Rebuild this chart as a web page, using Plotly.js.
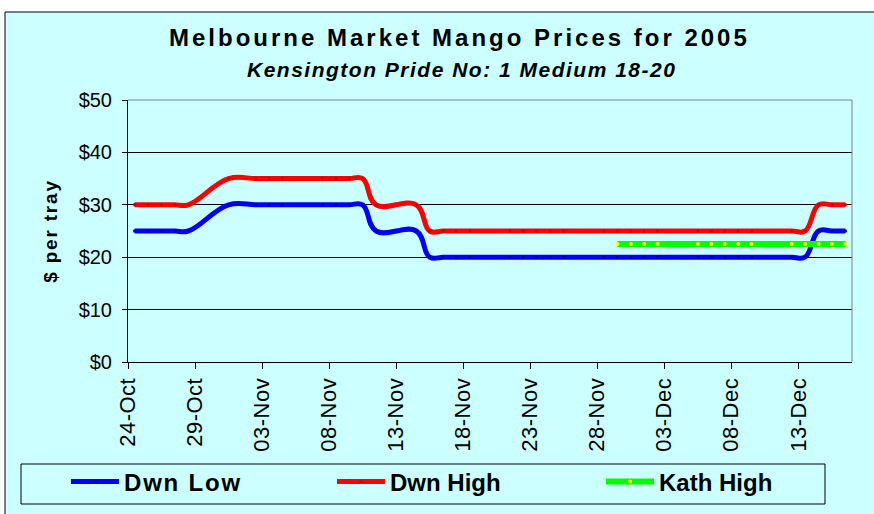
<!DOCTYPE html>
<html>
<head>
<meta charset="utf-8">
<script src="https://cdn.plot.ly/plotly-3.0.1.min.js"></script>
<style>
html, body { margin: 0; padding: 0; background: #ffffff; }
#chart { width: 874px; height: 514px; }
.legendtext { letter-spacing: 1.8px; }
.ytitle { letter-spacing: 1.8px; }
.xtick text { letter-spacing: 0.5px; }
</style>
</head>
<body>
<div id="chart"></div>
<script>
// Trading days (weekdays; 01-Nov Melbourne Cup holiday absent)
const dwnDates = [
  '2005-10-24','2005-10-25','2005-10-26','2005-10-27','2005-10-28',
  '2005-10-31','2005-11-02','2005-11-03','2005-11-04',
  '2005-11-07','2005-11-08','2005-11-09','2005-11-10','2005-11-11',
  '2005-11-14','2005-11-15','2005-11-16','2005-11-17','2005-11-18',
  '2005-11-21','2005-11-22','2005-11-23','2005-11-24','2005-11-25',
  '2005-11-28','2005-11-29','2005-11-30','2005-12-01','2005-12-02',
  '2005-12-05','2005-12-06','2005-12-07','2005-12-08','2005-12-09',
  '2005-12-12','2005-12-13','2005-12-14','2005-12-15','2005-12-16'
];
const dwnLow = [
  25,25,25,25,25,
  30,30,30,30,
  30,30,30,30,25,
  25,20,20,20,20,
  20,20,20,20,20,
  20,20,20,20,20,
  20,20,20,20,20,
  20,20,25,25,25
];
const dwnHigh = [
  30,30,30,30,30,
  35,35,35,35,
  35,35,35,35,30,
  30,25,25,25,25,
  25,25,25,25,25,
  25,25,25,25,25,
  25,25,25,25,25,
  25,25,30,30,30
];
const kathDates = [
  '2005-11-29','2005-11-30','2005-12-01','2005-12-02',
  '2005-12-05','2005-12-06','2005-12-07','2005-12-08','2005-12-09',
  '2005-12-12','2005-12-13','2005-12-14','2005-12-15','2005-12-16'
];
const kathHigh = [22.5,22.5,22.5,22.5,22.5,22.5,22.5,22.5,22.5,22.5,22.5,22.5,22.5,22.5];
const yTicks = [0,10,20,30,40,50];
const yTickText = ['$0','$10','$20','$30','$40','$50'];

const titleText = 'Melbourne Market Mango Prices for 2005';
const subtitleText = 'Kensington Pride No: 1 Medium 18-20';
const yTitle = '$ per tray';

// Excel date axis places points between tick marks (midday)
const mid = d => d + ' 12:00';

const FONT = 'Liberation Sans, Arial, sans-serif';

const traces = [
  {
    x: dwnDates.map(mid), y: dwnLow, name: 'Dwn Low', type: 'scatter', mode: 'lines+markers',
    legend: 'legend',
    line: {color: '#0000FF', width: 5, shape: 'spline', smoothing: 1.2},
    marker: {color: '#0000AA', size: 3.5, symbol: 'circle'}
  },
  {
    x: dwnDates.map(mid), y: dwnHigh, name: 'Dwn High', type: 'scatter', mode: 'lines+markers',
    legend: 'legend2',
    line: {color: '#FF0000', width: 5, shape: 'spline', smoothing: 1.2},
    marker: {color: '#CC0000', size: 3.5, symbol: 'circle'}
  },
  {
    x: kathDates.map(mid), y: kathHigh, name: 'Kath High', type: 'scatter', mode: 'lines+markers',
    legend: 'legend3',
    line: {color: '#00FF00', width: 6, shape: 'spline', smoothing: 1.2},
    marker: {color: '#FFFF00', size: 4, symbol: 'circle'}
  }
];

const L = 128, R = 852, T = 100, B = 362;
const px = X => (X - L) / (R - L);
const py = Y => (B - Y) / (B - T);

const legendBase = lineStart => ({
  orientation: 'h',
  xref: 'container', yref: 'container',
  x: (lineStart - 4) / 874, y: 1 - 482 / 514, xanchor: 'left', yanchor: 'middle',
  bgcolor: 'rgba(0,0,0,0)', borderwidth: 0,
  font: {family: FONT, size: 24, color: '#000000', weight: 'bold'},
  itemwidth: 48
});

const layout = {
  width: 874, height: 514,
  margin: {l: L, r: 874 - R, t: T, b: 514 - B, pad: 0},
  paper_bgcolor: '#ffffff',
  plot_bgcolor: 'rgba(0,0,0,0)',
  font: {family: FONT, color: '#000000'},
  showlegend: true,
  xaxis: {
    type: 'date',
    range: ['2005-10-24', '2005-12-17'],
    tick0: '2005-10-24', dtick: 5 * 86400000,
    tickformat: '%d-%b', tickangle: -90,
    ticks: 'outside', ticklen: 6, tickcolor: '#000000', tickwidth: 1,
    showline: true, linecolor: '#000000', linewidth: 1,
    showgrid: false, zeroline: false,
    tickfont: {family: FONT, size: 22, color: '#000000'},
    fixedrange: true
  },
  yaxis: {
    range: [0, 50],
    tickvals: yTicks, ticktext: yTickText,
    ticks: 'outside', ticklen: 5, tickcolor: '#000000', tickwidth: 1,
    ticklabelstandoff: 6,
    showline: true, linecolor: '#000000', linewidth: 1,
    showgrid: true, gridcolor: '#000000', gridwidth: 1,
    zeroline: false,
    tickfont: {family: FONT, size: 20, color: '#000000'},
    title: {text: yTitle, font: {family: FONT, size: 19, color: '#000000', weight: 'bold'}, standoff: 15},
    fixedrange: true
  },
  legend: legendBase(70),
  legend2: legendBase(336),
  legend3: legendBase(605),
  shapes: [
    {type: 'rect', xref: 'paper', yref: 'paper', layer: 'below',
     x0: px(5), x1: px(900), y0: py(540), y1: py(12),
     fillcolor: '#CCFFFF', line: {color: '#000000', width: 1}},
    {type: 'line', xref: 'paper', yref: 'paper', layer: 'above',
     x0: 0, x1: 1, y0: 1, y1: 1, line: {color: '#808080', width: 1}},
    {type: 'line', xref: 'paper', yref: 'paper', layer: 'above',
     x0: 1, x1: 1, y0: 0, y1: 1, line: {color: '#808080', width: 1}},
    {type: 'rect', xref: 'paper', yref: 'paper', layer: 'above',
     x0: px(21), x1: px(825), y0: py(504), y1: py(464),
     line: {color: '#000000', width: 1}}
  ],
  annotations: [
    {xref: 'paper', yref: 'paper', x: px(459), y: py(37), xanchor: 'center', yanchor: 'middle',
     showarrow: false,
     text: '<span style="letter-spacing:3px">' + titleText + '</span>',
     font: {family: FONT, size: 24, color: '#000000', weight: 'bold'}},
    {xref: 'paper', yref: 'paper', x: px(461), y: py(70), xanchor: 'center', yanchor: 'middle',
     showarrow: false,
     text: '<span style="letter-spacing:1.5px">' + subtitleText + '</span>',
     font: {family: FONT, size: 21, color: '#000000', weight: 'bold', style: 'italic'}}
  ]
};

Plotly.newPlot('chart', traces, layout, {displayModeBar: false, staticPlot: true});
</script>
</body>
</html>
